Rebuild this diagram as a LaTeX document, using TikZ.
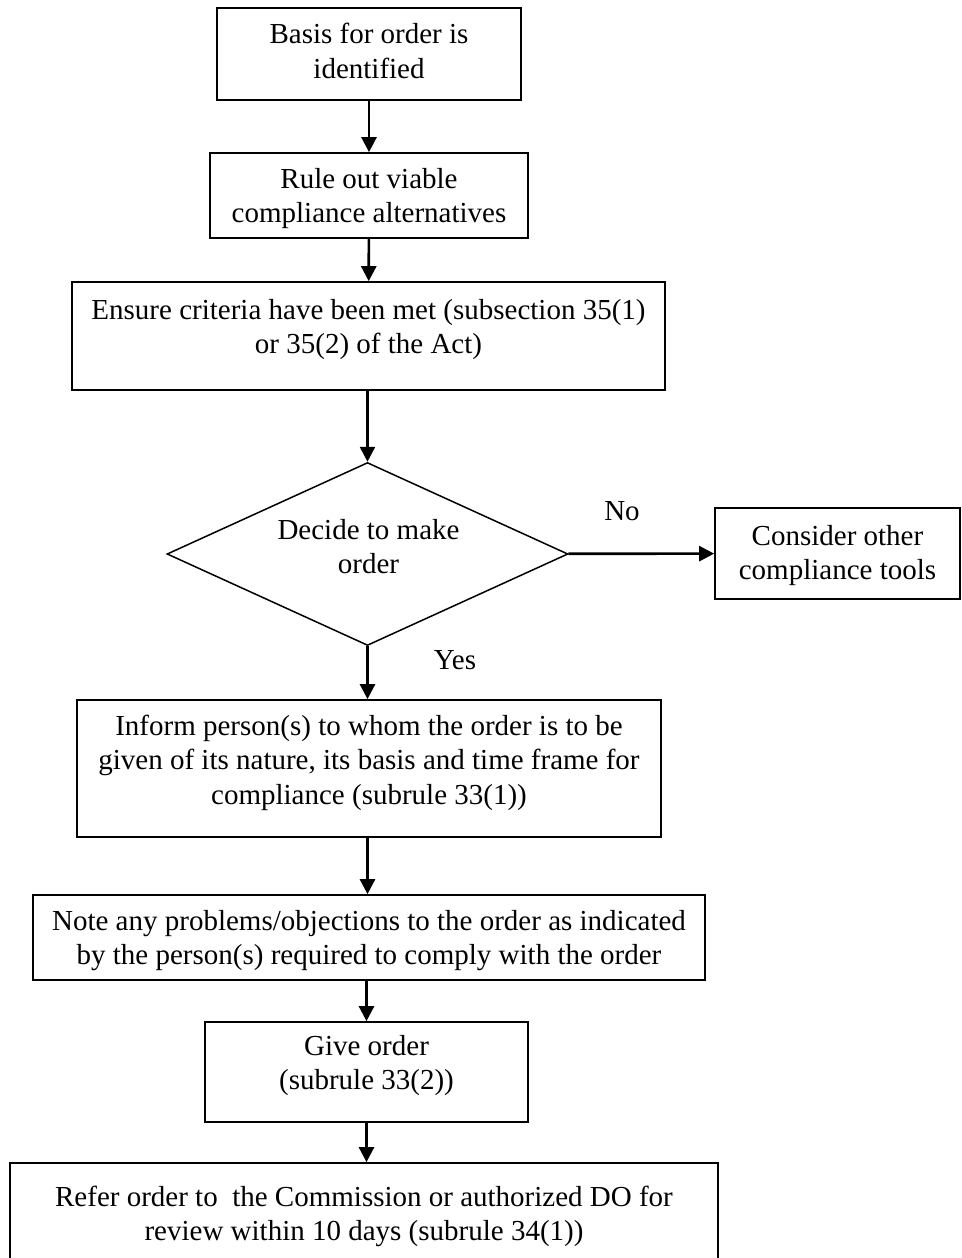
\documentclass[tikz,border=0pt]{standalone}
\usepackage{fontspec}
\setmainfont{Liberation Serif}
\usetikzlibrary{arrows.meta,shapes.geometric}
\begin{document}
\begin{tikzpicture}[x=1pt,y=-1pt,
  font=\fontsize{29}{34.5}\selectfont,
  box/.style={draw,line width=1.7pt,inner sep=0pt},
  txt/.style={align=center,inner sep=0pt,anchor=base},
  conn/.style={line width=2.6pt,-{Triangle[length=15pt,width=15pt]}},
  lab/.style={inner sep=0pt,anchor=base}]
\useasboundingbox (0,0) rectangle (961,1258);
% boxes (text nodes anchored at the baseline of their last line)
\node[box,minimum width=304pt,minimum height=92pt] (b1) at (369,54) {};
\node[txt] at (369,78) {Basis for order is\\identified};
\node[box,minimum width=318pt,minimum height=85pt] (b2) at (369,195.5) {};
\node[txt] at (369,222.5) {Rule out viable\\compliance alternatives};
\node[box,minimum width=593pt,minimum height=108pt] (b3) at (368.5,336) {};
\node[txt] at (368.5,353.5) {Ensure criteria have been met (subsection 35(1)\\or 35(2) of the Act)};
\node[draw,line width=1.5pt,diamond,minimum width=401pt,minimum height=183pt,inner sep=0pt] (d) at (367.5,554) {};
\node[txt] at (368.5,573.5) {Decide to make\\order};
\node[box,minimum width=245pt,minimum height=91pt] (no) at (837.5,553.5) {};
\node[txt] at (837.5,579.5) {Consider other\\compliance tools};
\node[box,minimum width=584pt,minimum height=137pt] (b4) at (369,768.5) {};
\node[txt] at (369,804) {Inform person(s) to whom the order is to be\\given of its nature, its basis and time frame for\\compliance (subrule 33(1))};
\node[box,minimum width=672pt,minimum height=85pt] (b5) at (369,937.5) {};
\node[txt] at (369,964.5) {Note any problems/objections to the order as indicated\\by the person(s) required to comply with the order};
\node[box,minimum width=323pt,minimum height=100pt] (b6) at (366.5,1072) {};
\node[txt] at (366.5,1089.5) {Give order\\(subrule 33(2))};
\node[box,minimum width=708pt,minimum height=104pt] (b7) at (364,1215) {};
\node[txt] at (364,1240.5) {Refer order to\ \ the Commission or authorized DO for\\review within 10 days (subrule 34(1))};
% labels
\node[lab] at (622,520) {No};
\node[lab] at (455,669) {Yes};
% connectors
\draw[conn] (b1) -- (b2);
\draw[conn] (b2) -- (b3);
\draw[conn] (b3.south -| d.north) -- (d.north);
\draw[conn] (d) -- (no);
\draw[conn] (d.south) -- (d.south |- b4.north);
\draw[conn] (b4.south -| d.south) -- (b5.north -| d.south);
\draw[conn] (b5.south -| b6.north) -- (b6.north);
\draw[conn] (b6.south) -- (b6.south |- b7.north);
\end{tikzpicture}
\end{document}
